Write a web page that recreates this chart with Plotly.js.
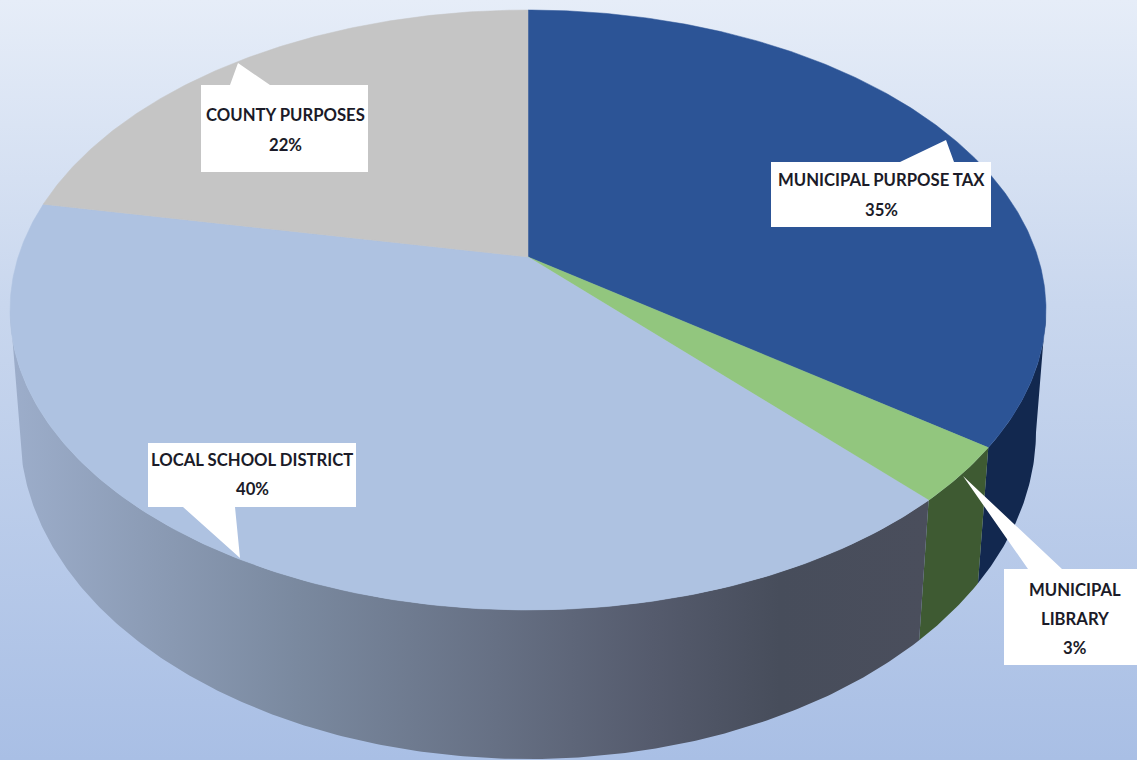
<!DOCTYPE html>
<html><head><meta charset="utf-8">
<script src="https://cdn.plot.ly/plotly-3.0.1.min.js"></script>
<style>html,body{margin:0;padding:0;width:1137px;height:760px;overflow:hidden;background:linear-gradient(to bottom,#e6edf8 0%,#c9d7ee 40%,#a9bfe5 100%);}#c{width:1137px;height:760px}</style>
</head><body><div id="c"></div>
<script>
// Data
const categories = ["MUNICIPAL PURPOSE TAX", "MUNICIPAL LIBRARY", "LOCAL SCHOOL DISTRICT", "COUNTY PURPOSES"];
const shares = [35, 3, 40, 22];
const topColors = ["#2c5496", "#92c67e", "#aec2e1", "#c5c5c5"];
const wallColors = ["#12284f", "#3e5a32", null, null];
const labelLines = [["MUNICIPAL PURPOSE TAX", "35%"], ["MUNICIPAL", "LIBRARY", "3%"], ["LOCAL SCHOOL DISTRICT", "40%"], ["COUNTY PURPOSES", "22%"]];
const labelX = [881, 1075, 252, 285];
const labelY = [[180, 210], [590, 619, 648], [460, 489], [115, 145]];
const calloutPaths = [
  "M771,162 L900,162 L946,140 L954,162 L991,162 L991,227 L771,227 Z",
  "M1004,569 L1028,569 L963,476 L1062,569 L1137,569 L1137,665 L1004,665 Z",
  "M148,443 L356,443 L356,507 L235,507 L240,558 L183,507 L148,507 Z",
  "M201,85 L230,85 L238,63 L270,85 L368,85 L368,172 L201,172 Z"
];

// Perspective projection of the pie's circular faces onto the page
const topFace = {cx: 528, cy: 310, a: 518, b: 300, r: 0.1767};
const botFace = {cx: 528, cy: 431, a: 508, b: 328, r: 0.17};
function proj(f, deg) {
  const t = deg * Math.PI / 180, u = Math.sin(t), v = Math.cos(t), d = 1 + f.r * v;
  return [f.cx + f.a * Math.sqrt(1 - f.r * f.r) * u / d, f.cy - f.b * (v + f.r) / d];
}
function arc(f, a0, a1) {
  const n = Math.max(2, Math.ceil(Math.abs(a1 - a0) * 2)), pts = [];
  for (let i = 0; i <= n; i++) pts.push(proj(f, a0 + (a1 - a0) * i / n));
  return pts;
}
const total = shares.reduce((s, v) => s + v, 0);
let acc = 0;
const spans = shares.map(v => { const s = [acc, acc + v * 360 / total]; acc = s[1]; return s; });
const visibleStart = 100, visibleEnd = 260;

const traces = [];
// Side wall
spans.forEach((s, i) => {
  const a0 = Math.max(s[0], visibleStart), a1 = Math.min(s[1], visibleEnd);
  if (a1 <= a0) return;
  const pts = arc(topFace, a0, a1).concat(arc(botFace, a1, a0));
  const tr = {
    type: "scatter", mode: "lines", x: pts.map(p => p[0]), y: pts.map(p => p[1]),
    fill: "toself", line: {width: 0}, hoverinfo: "skip", showlegend: false, name: categories[i]
  };
  if (wallColors[i]) tr.fillcolor = wallColors[i];
  else tr.fillgradient = {type: "horizontal", start: 15, stop: 925, colorscale: [
    [0, "#9cadca"], [0.31, "#7a899f"], [0.53, "#667084"], [0.7, "#555b6d"], [0.84, "#474d5b"], [1, "#4a4e5c"]]};
  traces.push(tr);
});
// Top face
spans.forEach((s, i) => {
  const apex = [topFace.cx, topFace.cy - topFace.b * topFace.r];
  const pts = [apex].concat(arc(topFace, s[0], s[1])).concat([apex]);
  traces.push({
    type: "scatter", mode: "lines", x: pts.map(p => p[0]), y: pts.map(p => p[1]),
    fill: "toself", fillcolor: topColors[i], line: {width: 0.5, color: topColors[i]},
    hovertext: categories[i] + ": " + shares[i] + "%", hoverinfo: "text", showlegend: false, name: categories[i]
  });
});

const annotations = [];
labelLines.forEach((lines, i) => lines.forEach((t, j) => annotations.push({
  x: labelX[i], y: labelY[i][j], xref: "x", yref: "y", text: t, showarrow: false,
  xanchor: "center", yanchor: "middle",
  font: {family: "Lato, 'Liberation Sans', sans-serif", size: 16.7, color: "#1b1b28", weight: 700}
})));

Plotly.newPlot("c", traces, {
  width: 1137, height: 760, margin: {l: 0, r: 0, t: 0, b: 0},
  paper_bgcolor: "rgba(0,0,0,0)", plot_bgcolor: "rgba(0,0,0,0)",
  xaxis: {range: [0, 1137], visible: false, fixedrange: true},
  yaxis: {range: [760, 0], visible: false, fixedrange: true},
  shapes: calloutPaths.map(p => ({type: "path", path: p, xref: "x", yref: "y", fillcolor: "#ffffff", line: {width: 0}, layer: "above"})),
  annotations: annotations, showlegend: false
}, {displayModeBar: false, staticPlot: true});
</script></body></html>
